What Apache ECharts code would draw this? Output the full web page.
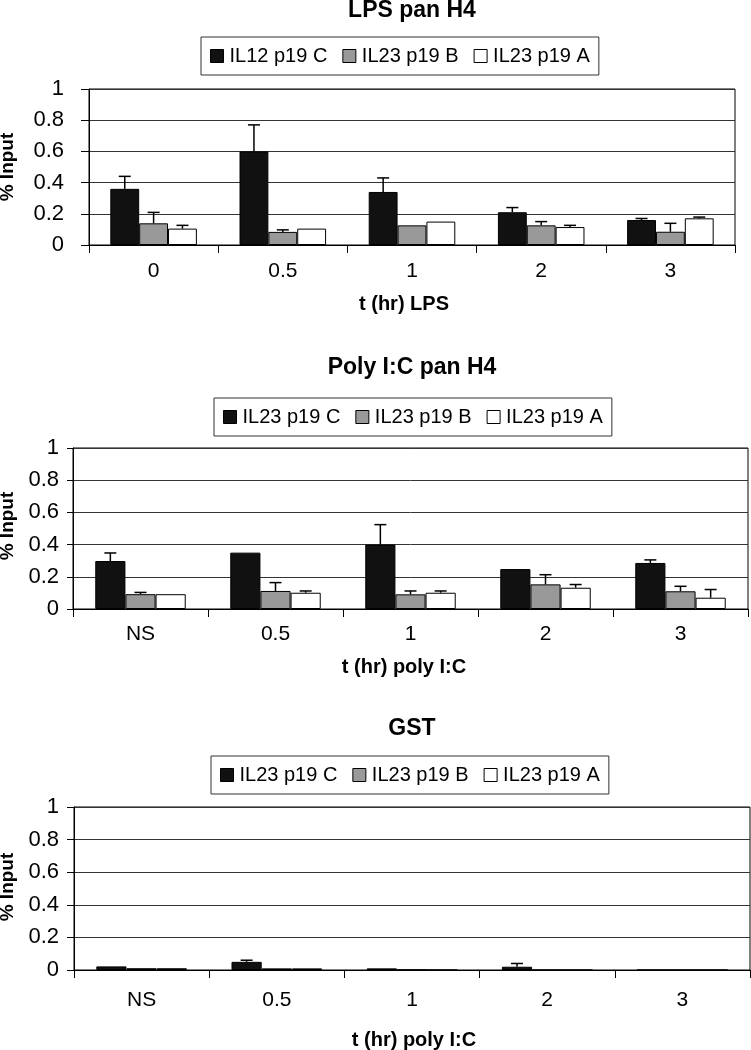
<!DOCTYPE html>
<html>
<head>
<meta charset="utf-8">
<script src="https://cdn.jsdelivr.net/npm/echarts@6/dist/echarts.min.js"></script>
<style>
html,body{margin:0;padding:0;background:#fff;}
#chart{width:751px;height:1050px;}
</style>
</head>
<body>
<div id="chart"></div>
<script>
// ---------- data ----------
const categoriesLPS = ['0', '0.5', '1', '2', '3'];
const categoriesPIC = ['NS', '0.5', '1', '2', '3'];
const yTicks = [0, 0.2, 0.4, 0.6, 0.8, 1];

const titles = ['LPS pan H4', 'Poly I:C pan H4', 'GST'];
const xNames = ['t (hr) LPS', 't (hr) poly I:C', 't (hr) poly I:C'];
const yName = '% Input';

const namesLPS = ['IL12 p19 C', 'IL23 p19 B', 'IL23 p19 A'];
const namesPIC = ['IL23 p19 C', 'IL23 p19 B', 'IL23 p19 A'];

// Panel 1: LPS pan H4
const lpsC = [0.36, 0.60, 0.34, 0.21, 0.16];
const lpsCErr = [0.08, 0.17, 0.09, 0.03, 0.01];
const lpsB = [0.139, 0.084, 0.126, 0.126, 0.085];
const lpsBErr = [0.07, 0.013, null, 0.024, 0.054];
const lpsA = [0.105, 0.105, 0.15, 0.115, 0.171];
const lpsAErr = [0.021, null, null, 0.011, 0.008];

// Panel 2: Poly I:C pan H4
const picC = [0.298, 0.35, 0.40, 0.248, 0.286];
const picCErr = [0.05, null, 0.124, null, 0.019];
const picB = [0.092, 0.112, 0.091, 0.153, 0.11];
const picBErr = [0.011, 0.052, 0.021, 0.06, 0.031];
const picA = [0.092, 0.101, 0.101, 0.132, 0.07];
const picAErr = [null, 0.011, 0.011, 0.02, 0.051];

// Panel 3: GST
const gstC = [0.022, 0.05, 0.01, 0.02, 0];
const gstCErr = [null, 0.01, null, 0.02, null];
const gstB = [0.011, 0.01, 0.002, 0, 0];
const gstA = [0.011, 0.01, 0, 0, 0];

// ---------- styling ----------
const FONT = "'Liberation Sans', Arial, Helvetica, sans-serif";
const fills = ['#111111', '#999999', '#ffffff'];
const CAT_GAP = 0.33;

const panels = [
  { cats: categoriesLPS, names: namesLPS, vals: [lpsC, lpsB, lpsA], errs: [lpsCErr, lpsBErr, lpsAErr],
    grid: { left: 89, right: 16, top: 89, height: 156 }, legend: { left: 201, top: 37 },
    yMargin: 25, yTick: 8, xMargin: 17, titleY: 11, xNameY: 304, xNameX: 404, yNameY: 167 },
  { cats: categoriesPIC, names: namesPIC, vals: [picC, picB, picA], errs: [picCErr, picBErr, picAErr],
    grid: { left: 73, right: 3, top: 448, height: 161 }, legend: { left: 214, top: 398 },
    yMargin: 14, yTick: 6, xMargin: 16, titleY: 368, xNameY: 667, xNameX: 404, yNameY: 526 },
  { cats: categoriesPIC, names: namesPIC, vals: [gstC, gstB, gstA], errs: [gstCErr, null, null],
    grid: { left: 74, right: 1, top: 807, height: 163 }, legend: { left: 211, top: 756 },
    yMargin: 15, yTick: 7, xMargin: 21, titleY: 729, xNameY: 1040, xNameX: 414, yNameY: 887 }
];

function errRender(idx) {
  return function (params, api) {
    const xi = api.value(0), v = api.value(1), e = api.value(2);
    const base = api.coord([xi, v]);
    const top = api.coord([xi, v + e]);
    const band = api.size([1, 0])[0];
    const bw = band * (1 - CAT_GAP) / 3;
    const x = base[0] + (idx - 1) * bw;
    const cap = 12;
    const st = { stroke: '#000', lineWidth: 1.5 };
    return {
      type: 'group',
      children: [
        { type: 'line', shape: { x1: x, y1: base[1], x2: x, y2: top[1] }, style: st },
        { type: 'line', shape: { x1: x - cap / 2, y1: top[1], x2: x + cap / 2, y2: top[1] }, style: st }
      ]
    };
  };
}

const grids = [], xAxes = [], yAxes = [], legends = [], series = [], graphics = [];

panels.forEach((p, pi) => {
  grids.push(Object.assign({ show: true, borderColor: '#000', borderWidth: 1, containLabel: false, outerBoundsMode: 'none' }, p.grid));
  xAxes.push({
    type: 'category', gridIndex: pi, data: p.cats, boundaryGap: true,
    axisLine: { show: true, lineStyle: { color: '#000', width: 1 } },
    axisTick: { show: true, length: 8, inside: false, lineStyle: { color: '#000', width: 1 } },
    axisLabel: { color: '#000', fontFamily: FONT, fontSize: 21, margin: p.xMargin - 1 },
    splitLine: { show: false }
  });
  yAxes.push({
    type: 'value', gridIndex: pi, min: yTicks[0], max: yTicks[yTicks.length - 1], interval: 0.2,
    axisLine: { show: true, lineStyle: { color: '#000', width: 1 } },
    axisTick: { show: true, length: p.yTick, inside: false, lineStyle: { color: '#000', width: 1 } },
    axisLabel: { color: '#000', fontFamily: FONT, fontSize: 22, margin: p.yMargin },
    splitLine: { show: true, lineStyle: { color: '#333', width: 1 } }
  });
  legends.push({
    data: p.names.slice(), left: p.legend.left, top: p.legend.top, orient: 'horizontal',
    padding: [9, 9], itemGap: 15, itemWidth: 13, itemHeight: 13,
    borderColor: '#333', borderWidth: 1, backgroundColor: '#fff',
    icon: 'rect', selectedMode: false,
    itemStyle: { borderColor: '#000', borderWidth: 1 },
    textStyle: { color: '#000', fontFamily: FONT, fontSize: 20, padding: [0, 0, 0, 1] }
  });
  p.names.forEach((nm, si) => {
    series.push({
      type: 'bar', name: nm, xAxisIndex: pi, yAxisIndex: pi,
      data: p.vals[si], barGap: '0%', barCategoryGap: (CAT_GAP * 100) + '%',
      itemStyle: { color: fills[si], borderColor: '#000', borderWidth: 1 },
      emphasis: { disabled: true }, z: 2
    });
    const e = p.errs[si];
    if (e) {
      const d = [];
      e.forEach((ev, i) => { if (ev != null) d.push([i, p.vals[si][i], ev]); });
      series.push({
        type: 'custom', name: 'err-' + pi + '-' + si, xAxisIndex: pi, yAxisIndex: pi,
        renderItem: errRender(si), data: d, encode: { x: 0, y: 1 }, z: 3, silent: true
      });
    }
  });
  graphics.push({
    type: 'text', x: 412, y: p.titleY,
    style: { text: titles[pi], font: 'bold 23px ' + FONT, fill: '#000', align: 'center', verticalAlign: 'middle' }
  });
  graphics.push({
    type: 'text', x: p.xNameX, y: p.xNameY,
    style: { text: xNames[pi], font: 'bold 20px ' + FONT, fill: '#000', align: 'center', verticalAlign: 'middle' }
  });
  graphics.push({
    type: 'text', x: 8, y: p.yNameY, rotation: Math.PI / 2,
    style: { text: yName, font: 'bold 19px ' + FONT, fill: '#000', align: 'center', verticalAlign: 'middle' }
  });
});

const chart = echarts.init(document.getElementById('chart'), null, { renderer: 'canvas' });
chart.setOption({
  animation: false,
  backgroundColor: '#fff',
  grid: grids, xAxis: xAxes, yAxis: yAxes, legend: legends, series: series,
  graphic: graphics
});
</script>
</body>
</html>
